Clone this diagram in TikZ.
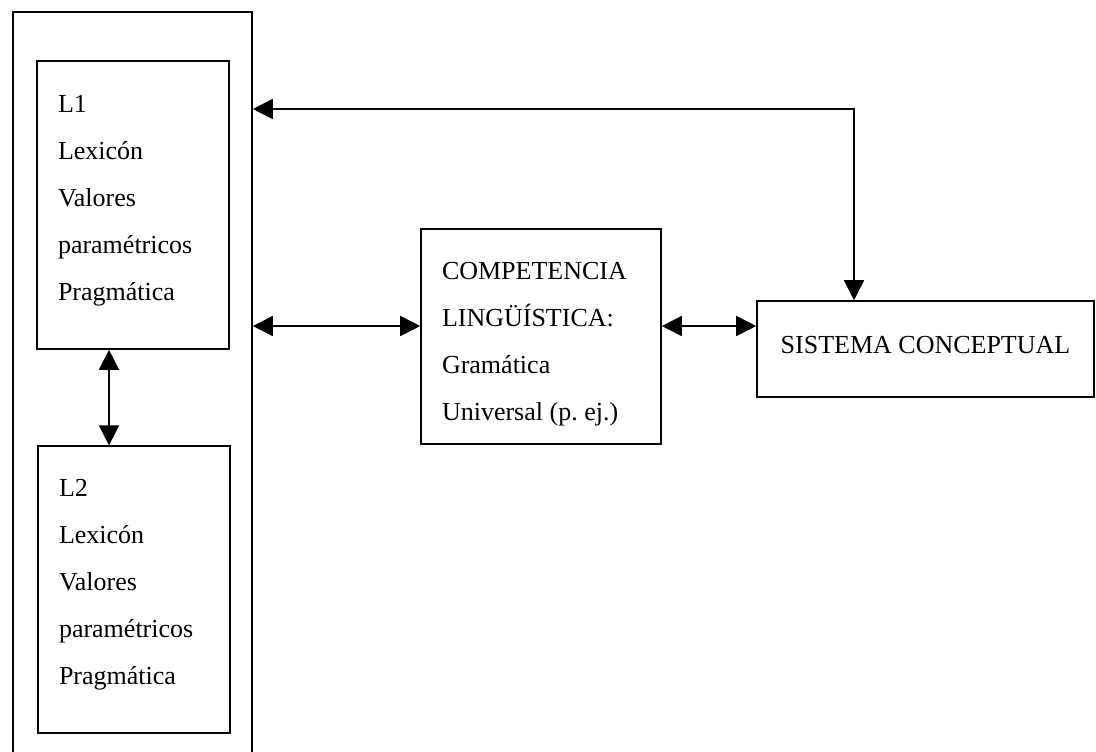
\documentclass[tikz,border=0pt]{standalone}
\usepackage{fontspec}
\setmainfont{Liberation Serif}
\usetikzlibrary{arrows.meta,positioning}

% text block hung from its first baseline, raised above the node centre
\newcommand{\intext}[3]{\raisebox{#1}[0pt][0pt]{\parbox[t]{#2}{#3}}}

\begin{document}
\begin{tikzpicture}[x=0.75pt,y=-0.75pt]
    \tikzstyle{dedge} = [line width=1.2pt,{Triangle[length=15pt,width=15pt]}-{Triangle[length=15pt,width=15pt]},draw=black]
    \tikzstyle{box}=[
      draw=black,
      rectangle,
      line width=1.2pt,
      inner xsep=15.75pt,
      inner ysep=0pt,
      font=\fontsize{19.5pt}{35.25pt}\selectfont,
    ]

    \useasboundingbox (0,0) rectangle (1096,751);
    \clip (0,0) rectangle (1096,751);

    \node[box, minimum width=179.25pt, minimum height=576pt] (lang) at (132.5,396) {};
    \node[box, minimum width=144pt, minimum height=216pt] (l1) at (133,205)
      {\intext{69.75pt}{112.5pt}{L1\\Lexicón\\Valores\\paramétricos\\Pragmática}};
    \node[box, minimum width=144pt, minimum height=215pt] (l2) at (134,589.5)
      {\intext{69.4pt}{112.5pt}{L2\\Lexicón\\Valores\\paramétricos\\Pragmática}};
    \node[box, minimum width=180pt, minimum height=161.25pt] (comp) at (541,336.5)
      {\intext{42.4pt}{148.5pt}{COMPETENCIA\\LINGÜÍSTICA:\\Gramática\\Universal (p.\ ej.)}};
    \node[box, minimum width=252.75pt, minimum height=72pt] (sist) at (925.5,349)
      {\raisebox{-3pt}[0pt][0pt]{SISTEMA CONCEPTUAL}};

    \coordinate (vx) at (109,0);
    \coordinate (lk) at (0,326);
    \coordinate (top) at (854,109);

    \draw[dedge] (l1.south -| vx)--(l2.north -| vx);
    \draw[dedge] (lang.east |- lk)--(comp.west |- lk);
    \draw[dedge] (comp.east |- lk)--(sist.west |- lk);
    \draw[dedge] (lang.east |- top)--(top)--(top |- sist.north);
  \end{tikzpicture}
\end{document}
